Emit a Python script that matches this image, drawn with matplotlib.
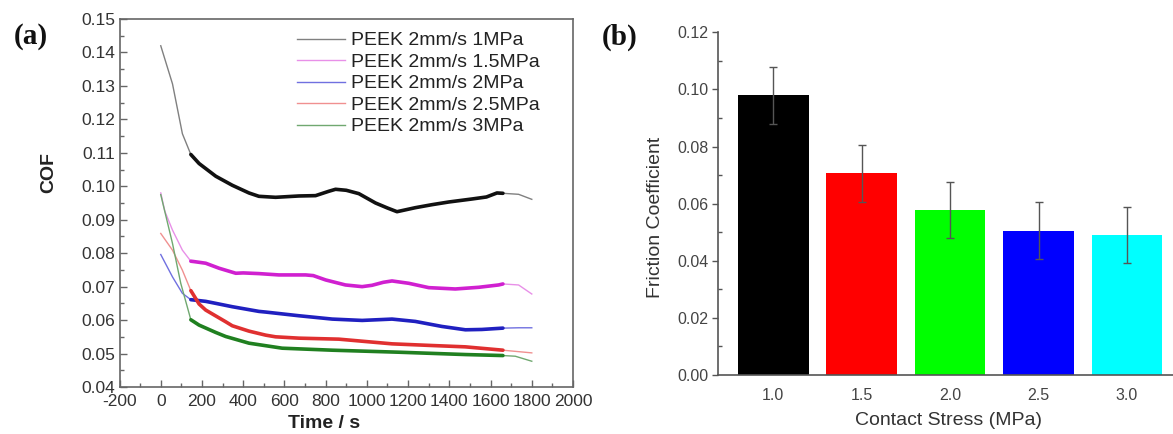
import numpy as np
import matplotlib.pyplot as plt
from matplotlib.ticker import MultipleLocator, FormatStrFormatter

plt.rcParams['font.family'] = ['Liberation Sans', 'DejaVu Sans']
plt.rcParams['axes.unicode_minus'] = False

# ---- panel (a) data: COF vs time ----
labels = ['PEEK 2mm/s 1MPa', 'PEEK 2mm/s 1.5MPa', 'PEEK 2mm/s 2MPa',
          'PEEK 2mm/s 2.5MPa', 'PEEK 2mm/s 3MPa']

t_1 = [0, 57, 105, 146, 186, 267, 347, 428, 476, 557, 670, 751, 815, 848,
       900, 961, 1042, 1100, 1146, 1235, 1316, 1397, 1510, 1580, 1631, 1660, 1736, 1800]
cof_1 = [0.142, 0.1306, 0.1157, 0.1095, 0.1068, 0.1030, 0.1003, 0.0980,
         0.0970, 0.0967, 0.0971, 0.0972, 0.0985, 0.0991, 0.0988, 0.0978, 0.0950,
         0.0935, 0.0924, 0.0936, 0.0945, 0.0953, 0.0962, 0.0968, 0.0980, 0.0979,
         0.0976, 0.0961]

t_15 = [0, 20, 57, 105, 146, 160, 218, 283, 364, 400, 476, 573, 703, 740, 800,
        896, 977, 1025, 1080, 1122, 1203, 1300, 1429, 1542, 1639, 1660, 1736, 1800]
cof_15 = [0.098, 0.0925, 0.0869, 0.0809, 0.0776, 0.0775, 0.0770, 0.0755, 0.0740,
          0.0741, 0.0739, 0.0735, 0.0735, 0.0733, 0.0720, 0.0705, 0.0700, 0.0704,
          0.0713, 0.0717, 0.0710, 0.0697, 0.0693, 0.0698, 0.0705, 0.0708, 0.0705, 0.0678]

t_2 = [0, 57, 105, 146, 218, 267, 347, 476, 509, 670, 832, 977, 1122, 1235,
       1364, 1478, 1558, 1660, 1736, 1800]
cof_2 = [0.0796, 0.0729, 0.0680, 0.0661, 0.0656, 0.0650, 0.0640, 0.0626, 0.0624,
         0.0613, 0.0603, 0.0599, 0.0603, 0.0596, 0.0581, 0.0571, 0.0572, 0.0576,
         0.0577, 0.0577]

t_25 = [0, 57, 105, 146, 186, 218, 315, 347, 428, 509, 557, 670, 864, 993, 1122,
        1316, 1478, 1660, 1800]
cof_25 = [0.0859, 0.0809, 0.0749, 0.0688, 0.0648, 0.0630, 0.0595, 0.0583, 0.0567,
          0.0555, 0.0550, 0.0546, 0.0543, 0.0536, 0.0529, 0.0524, 0.0520, 0.0510, 0.0502]

t_3 = [0, 57, 97, 146, 186, 267, 315, 428, 589, 832, 1154, 1478, 1660, 1720, 1800]
cof_3 = [0.0975, 0.0829, 0.0710, 0.0601, 0.0585, 0.0563, 0.0551, 0.0531, 0.0516,
         0.0510, 0.0504, 0.0497, 0.0494, 0.0492, 0.0477]

thin_colors = ['#808080', '#e890e8', '#7070e0', '#f09090', '#70a870']
thick_colors = ['#111111', '#d020d0', '#2020c0', '#e03030', '#208020']

# ---- panel (b) data: friction coefficient vs contact stress ----
stress = [1.0, 1.5, 2.0, 2.5, 3.0]
friction = [0.098, 0.0706, 0.0578, 0.0505, 0.0490]
friction_err = [0.010, 0.0099, 0.0099, 0.010, 0.0099]
bar_colors = ['#000000', '#ff0000', '#00ff00', '#0000ff', '#00ffff']

fig = plt.figure(figsize=(11.73, 4.34), dpi=100)

# ===== (a) =====
ax1 = fig.add_axes([0.1019, 0.1083, 0.3866, 0.8479])
series = [(t_1, cof_1), (t_15, cof_15), (t_2, cof_2), (t_25, cof_25), (t_3, cof_3)]
for i, (t, c) in enumerate(series):
    t = np.array(t)
    c = np.array(c)
    ax1.plot(t, c, color=thin_colors[i], lw=1.0, label=labels[i])
    m = (t >= 140) & (t <= 1665)
    ax1.plot(t[m], c[m], color=thick_colors[i], lw=2.6, solid_capstyle='round')

ax1.set_xlim(-200, 2000)
ax1.set_ylim(0.04, 0.15)
ax1.xaxis.set_major_locator(MultipleLocator(200))
ax1.xaxis.set_minor_locator(MultipleLocator(100))
ax1.yaxis.set_major_locator(MultipleLocator(0.01))
ax1.yaxis.set_minor_locator(MultipleLocator(0.005))
ax1.yaxis.set_major_formatter(FormatStrFormatter('%.2f'))
ax1.tick_params(which='both', direction='in', top=False, right=False,
                colors='#666666', labelcolor='#333333', labelsize=12.5, pad=3)
ax1.tick_params(axis='x', pad=5)
ax1.tick_params(which='major', length=5, width=1)
ax1.tick_params(which='minor', length=3, width=1)
for s in ax1.spines.values():
    s.set_color('#666666')
    s.set_linewidth(1.2)
ax1.set_xlabel('Time / s', fontsize=14, fontweight='bold', color='#222222')
ax1.set_ylabel('COF', fontsize=14, fontweight='bold', color='#222222')
ax1.xaxis.set_label_coords(0.45, -0.076)
ax1.yaxis.set_label_coords(-0.137, 0.583)
ax1.legend(loc='upper left', bbox_to_anchor=(0.391, 0.965), frameon=False,
           fontsize=14, handlelength=2.5, handletextpad=0.3, labelspacing=0.2,
           borderpad=0, borderaxespad=0, labelcolor='#222222')

fig.text(0.026, 0.915, '(a)', fontsize=21, fontweight='bold',
         family='Liberation Serif', ha='center', va='center', color='#111111')

# ===== (b) =====
ax2 = fig.add_axes([0.6124, 0.1359, 0.3876, 0.7896])
ax2.bar(stress, friction, width=0.4, color=bar_colors,
        yerr=friction_err, ecolor='#555555', capsize=3,
        error_kw={'elinewidth': 1, 'capthick': 1})
ax2.set_xlim(0.69, 3.26)
ax2.set_ylim(0, 0.12)
ax2.set_xticks(stress)
ax2.xaxis.set_major_formatter(FormatStrFormatter('%.1f'))
ax2.yaxis.set_major_locator(MultipleLocator(0.02))
ax2.yaxis.set_minor_locator(MultipleLocator(0.01))
ax2.yaxis.set_major_formatter(FormatStrFormatter('%.2f'))
ax2.spines['top'].set_visible(False)
ax2.spines['right'].set_visible(False)
for s in ['left', 'bottom']:
    ax2.spines[s].set_color('#555555')
    ax2.spines[s].set_linewidth(1.2)
ax2.tick_params(axis='y', which='major', direction='out', length=4, width=1,
                colors='#555555', labelcolor='#444444', labelsize=11.5, pad=3)
ax2.tick_params(axis='y', which='minor', direction='in', length=3, width=1,
                colors='#555555')
ax2.tick_params(axis='x', length=0, labelcolor='#444444', labelsize=11.5, pad=9)
ax2.set_xlabel('Contact Stress (MPa)', fontsize=14, color='#333333')
ax2.set_ylabel('Friction Coefficient', fontsize=14, color='#333333')
ax2.xaxis.set_label_coords(0.507, -0.107)
ax2.yaxis.set_label_coords(-0.119, 0.46)

fig.text(0.528, 0.915, '(b)', fontsize=21, fontweight='bold',
         family='Liberation Serif', ha='center', va='center', color='#111111')

fig.savefig('out.png', dpi=100)
